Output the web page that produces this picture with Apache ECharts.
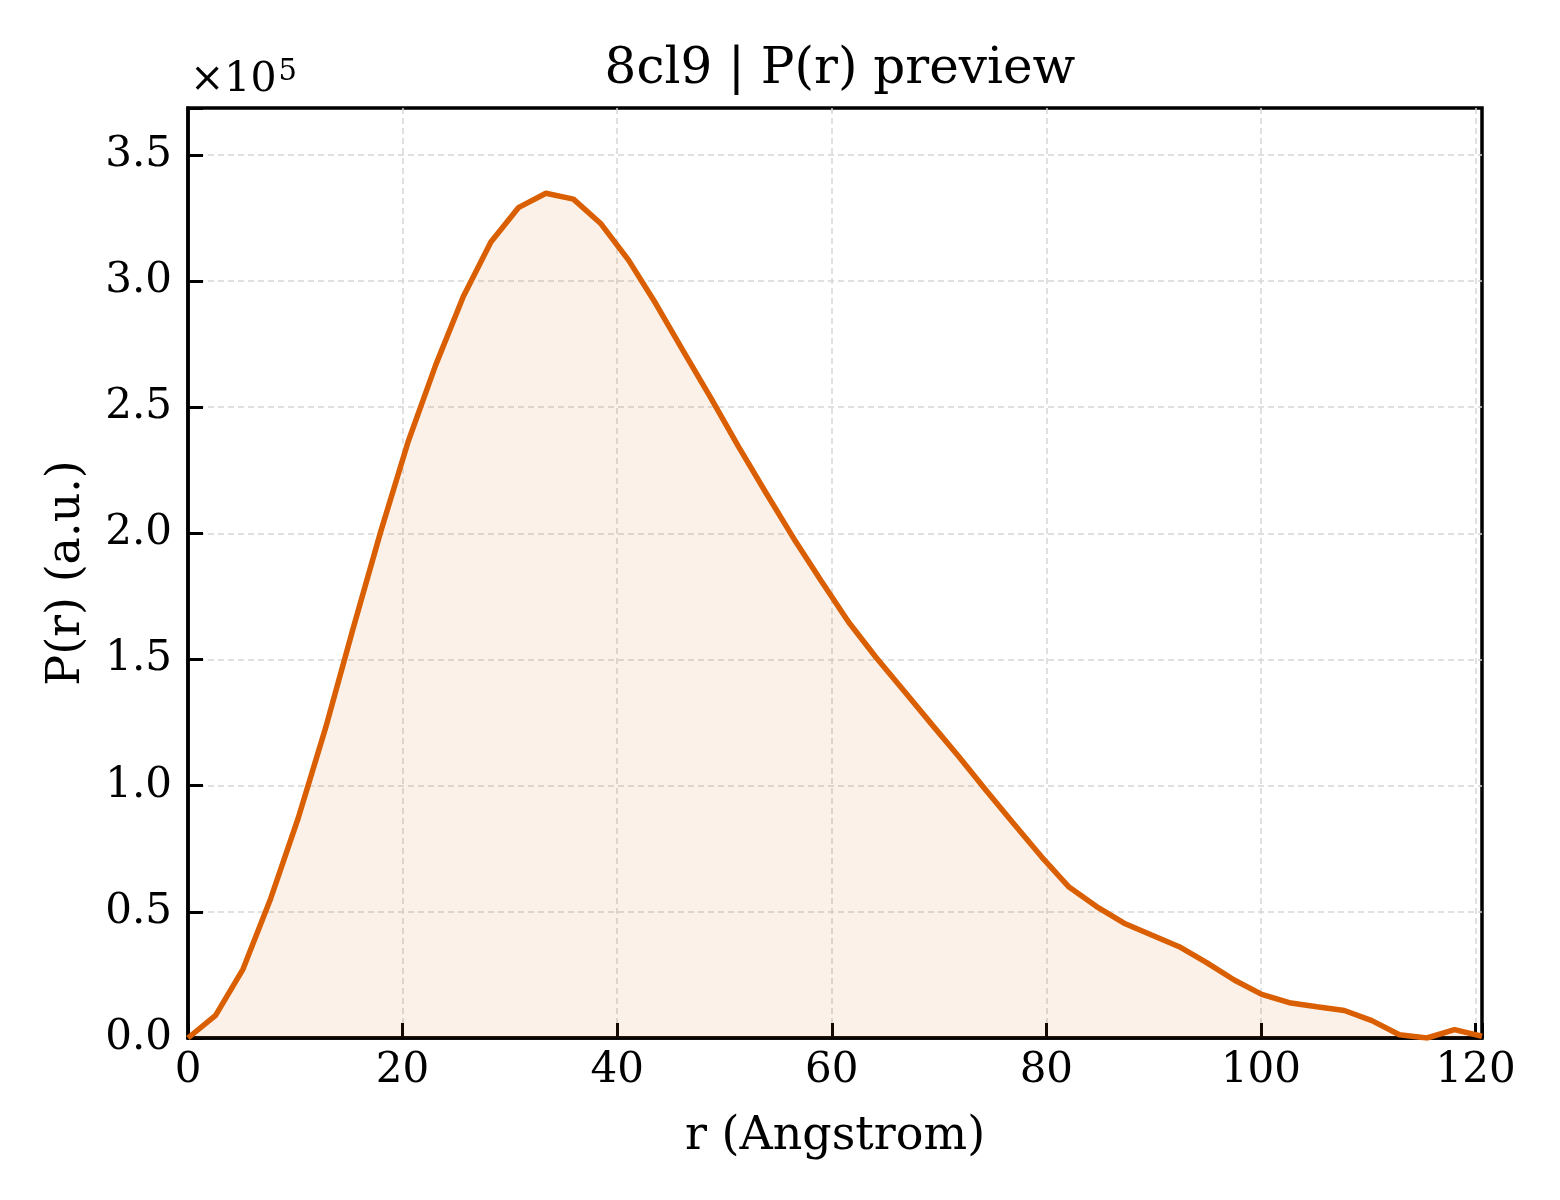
<!DOCTYPE html>
<html>
<head>
<meta charset="utf-8">
<script src="https://cdn.jsdelivr.net/npm/echarts@6/dist/echarts.min.js"></script>
<style>
  html, body { margin: 0; padding: 0; background: #fff; }
  #chart { width: 1560px; height: 1200px; }
</style>
</head>
<body>
<div id="chart"></div>
<script>
// r values (Angstrom)
var rValues = [0, 2.57, 5.13, 7.70, 10.26, 12.83, 15.40, 17.96, 20.53, 23.09,
    25.66, 28.23, 30.79, 33.36, 35.92, 38.49, 41.06, 43.62, 46.19, 48.75,
    51.32, 53.89, 56.45, 59.02, 61.58, 64.15, 66.72, 69.28, 71.85, 74.41,
    76.98, 79.55, 82.11, 84.68, 87.24, 89.81, 92.38, 94.94, 97.51, 100.07,
    102.64, 105.21, 107.77, 110.34, 112.90, 115.47, 118.04, 120.60];

// P(r), a.u.
var prValues = [0, 9000, 27300, 55200, 87000, 123000, 162500, 200700, 236500, 266800,
    293900, 315500, 329100, 334800, 332500, 322700, 308300, 290900, 272000, 253500,
    234300, 215900, 198000, 181100, 164800, 150700, 137600, 124500, 111500, 98000,
    84800, 71800, 59800, 52100, 45500, 40800, 36200, 29900, 23000, 17300,
    14000, 12400, 10900, 6900, 1300, 0, 3300, 700];

var xTicks = [0, 20, 40, 60, 80, 100, 120];
var yTicks = [0, 50000, 100000, 150000, 200000, 250000, 300000, 350000];

var font = 'DejaVu Serif';
var lineColor = '#d95f02';

var seriesData = rValues.map(function (r, i) {
    return [r, prValues[i]];
});

var gridStyle = { color: '#d6d6d6', width: 1.5, type: [6, 4] };

var option = {
    backgroundColor: '#ffffff',
    animation: false,
    title: {
        text: '8cl9 | P(r) preview',
        left: 835,
        textAlign: 'center',
        top: 40,
        textStyle: {
            fontFamily: font,
            fontSize: 50,
            fontWeight: 'normal',
            color: '#000'
        }
    },
    graphic: [
        {
            type: 'text',
            left: 190,
            top: 58,
            style: {
                text: '{a|×10}{b|5}',
                rich: {
                    a: { fontFamily: font, fontSize: 41, fill: '#000' },
                    b: { fontFamily: font, fontSize: 29, fill: '#000', verticalAlign: 'top', padding: [0, 0, 16, 2] }
                }
            }
        }
    ],
    grid: {
        left: 188,
        right: 78,
        top: 108,
        bottom: 162,
        show: true,
        borderColor: '#000',
        borderWidth: 3.5,
        backgroundColor: 'transparent'
    },
    xAxis: {
        type: 'value',
        min: 0,
        max: 120.6,
        interval: 20,
        name: 'r (Angstrom)',
        nameLocation: 'middle',
        nameGap: 76,
        nameTextStyle: { fontFamily: font, fontSize: 46, color: '#000' },
        axisLine: { show: true, onZero: false, lineStyle: { color: '#000', width: 3.5 } },
        axisTick: { show: true, inside: true, length: 15, lineStyle: { color: '#000', width: 3 } },
        axisLabel: {
            fontFamily: font,
            fontSize: 42,
            color: '#000',
            margin: 12,
            formatter: function (v) {
                return xTicks.indexOf(v) >= 0 ? String(v) : '';
            }
        },
        splitLine: { show: true, showMinLine: false, showMaxLine: false, lineStyle: gridStyle }
    },
    yAxis: {
        type: 'value',
        min: 0,
        max: 368600,
        interval: 50000,
        name: 'P(r) (a.u.)',
        nameLocation: 'middle',
        nameGap: 98,
        nameRotate: 90,
        nameTextStyle: { fontFamily: font, fontSize: 46, color: '#000' },
        axisLine: { show: true, lineStyle: { color: '#000', width: 3.5 } },
        axisTick: { show: true, inside: true, length: 15, lineStyle: { color: '#000', width: 3 } },
        axisLabel: {
            fontFamily: font,
            fontSize: 42,
            color: '#000',
            margin: 16,
            formatter: function (v) {
                return yTicks.indexOf(v) >= 0 ? (v / 100000).toFixed(1) : '';
            }
        },
        splitLine: { show: true, showMinLine: false, showMaxLine: false, lineStyle: gridStyle }
    },
    series: [
        {
            type: 'line',
            data: seriesData,
            showSymbol: false,
            symbol: 'none',
            smooth: false,
            clip: true,
            lineStyle: { color: lineColor, width: 5.5 },
            areaStyle: { color: 'rgba(217,95,2,0.13)', origin: 'start' }
        }
    ]
};

var myChart = echarts.init(document.getElementById('chart'));
myChart.setOption(option);
</script>
</body>
</html>
